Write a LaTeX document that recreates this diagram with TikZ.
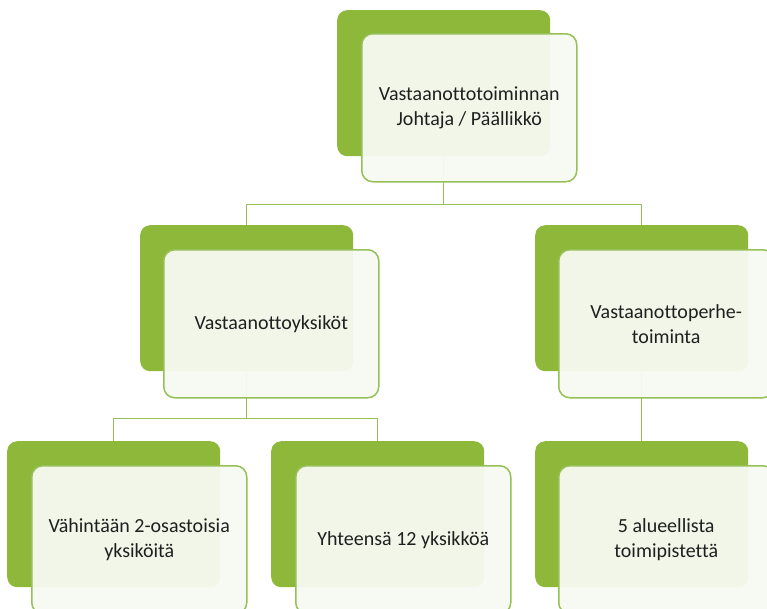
\documentclass[tikz,border=0pt]{standalone}
\usepackage{fontspec}
\setmainfont{Carlito}[Ligatures={NoCommon}]
\usepackage{tikz}
\usetikzlibrary{calc,positioning}
\definecolor{boxgreen}{RGB}{141,184,58}
\definecolor{boxpale}{RGB}{247,250,242}
\definecolor{linegreen}{RGB}{150,192,88}
\newcommand{\clrone}{boxgreen}
\newcommand{\clrtwo}{linegreen}

\begin{document}
\begin{tikzpicture}[x=1pt, y=-1pt,
    back/.style={fill=\clrone, rounded corners=10pt, anchor=north west,
        minimum width=213pt, minimum height=146pt, inner sep=0pt},
    front/.style={draw=\clrtwo, line width=1.5pt, fill=boxpale, fill opacity=0.95,
        text opacity=1, rounded corners=11pt, anchor=north west,
        minimum width=215pt, minimum height=148pt, inner sep=0pt,
        align=center, font=\fontsize{20}{25}\selectfont, text=black!88},
    conn/.style={draw=\clrtwo, line width=1.5pt}]
    \useasboundingbox (0,0) rectangle (767,608);
    %green boxes behind
        \foreach \i/\x/\y in {1/337/10, 2/140/225, 3/535/225, 4/7/441, 5/271/441, 6/535/441} {
            \node[back] (g\i) at (\x,\y) {};
        }
    %connectors
        %top to second row
        \draw[conn] (g1.south) -- ++(0,48) -| (g2.north);
        \draw[conn] (g1.south) -- ++(0,48) -| (g3.north);
        %left to bottom row
        \draw[conn] (g2.south) -- ++(0,47) -| (g4.north);
        \draw[conn] (g2.south) -- ++(0,47) -| (g5.north);
        %right to bottom row
        \draw[conn] (g3.south) -- (g6.north);
    %pale boxes with text
        \node[front] (f1) at (361,33) {Vastaanottotoiminnan\\Johtaja / Päällikkö};
        \node[front] (f2) at (163,249) {Vastaanottoyksiköt};
        \node[front] (f3) at (558,249) {Vastaanottoperhe-\\toiminta};
        \node[front] (f4) at (31,465) {Vähintään 2-osastoisia\\yksiköitä};
        \node[front] (f5) at (295,465) {Yhteensä 12 yksikköä};
        \node[front] (f6) at (558,465) {5 alueellista\\toimipistettä};
\end{tikzpicture}
\end{document}
